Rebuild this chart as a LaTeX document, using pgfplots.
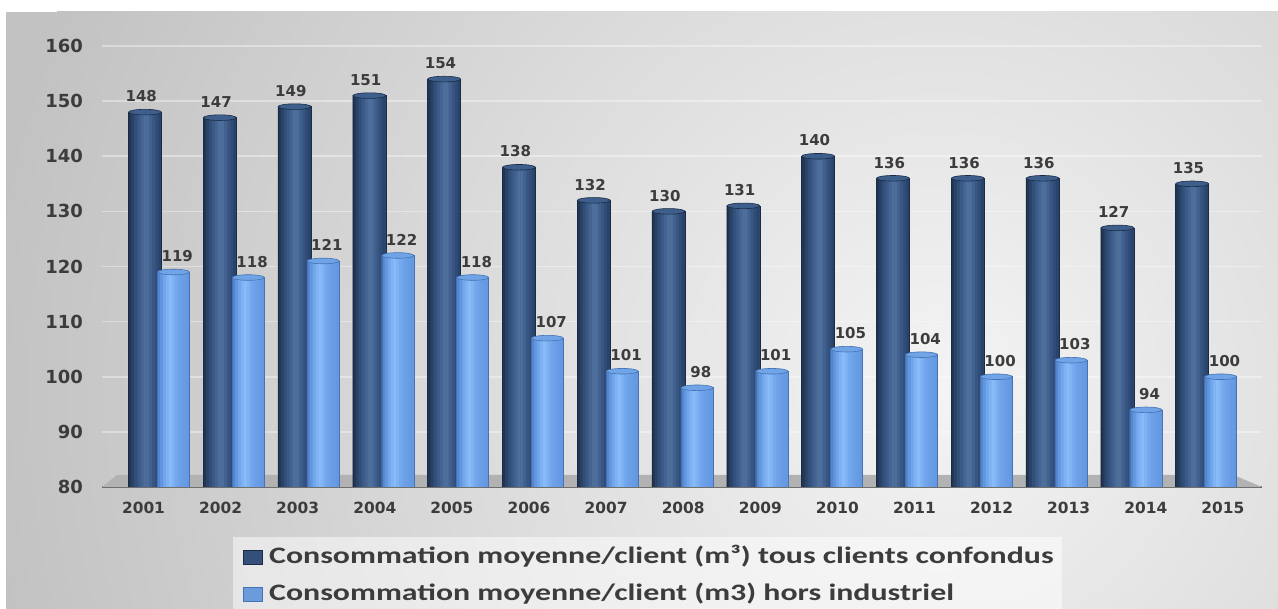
\documentclass[border=0pt]{standalone}
\usepackage{fontspec}
\setmainfont{DejaVu Sans}
\newfontfamily\legfont[FakeStretch=1.35]{Carlito}
\usepackage{pgfplots}
\usepackage{pgfplotstable}
\pgfplotsset{compat=1.18}
\definecolor{txt}{HTML}{3C3C3C}
\definecolor{bgdark}{HTML}{C2C2C2}
\definecolor{bglight}{HTML}{F4F4F4}
\definecolor{dk1}{HTML}{1E2F48}
\definecolor{dk2}{HTML}{34527F}
\definecolor{dk3}{HTML}{52729F}
\definecolor{dk4}{HTML}{263F64}
\definecolor{dkedge}{HTML}{1A2B45}
\definecolor{dkcap}{HTML}{3E5E8C}
\definecolor{dkflat}{HTML}{34507A}
\definecolor{lt1}{HTML}{4A7EC6}
\definecolor{lt2}{HTML}{6EA3EA}
\definecolor{lt3}{HTML}{88BCF9}
\definecolor{lt4}{HTML}{6296E0}
\definecolor{ltedge}{HTML}{4472B4}
\definecolor{ltcap}{HTML}{70A4E6}
\definecolor{ltflat}{HTML}{6A9BDA}
\definecolor{floorc}{HTML}{B2B2B2}
\definecolor{floorl}{HTML}{6E6E6E}
\pgfdeclareplotmark{capd}{\pgfpathellipse{\pgfpointorigin}{\pgfqpoint{8.25pt}{0pt}}{\pgfqpoint{0pt}{1.4pt}}\pgfusepathqfillstroke}
\pgfdeclareplotmark{capl}{\pgfpathellipse{\pgfpointorigin}{\pgfqpoint{8pt}{0pt}}{\pgfqpoint{0pt}{1.4pt}}\pgfusepathqfillstroke}
\newcommand{\strip}[4]{\addplot[ybar, bar width=#1, bar shift=#2, fill=#3, draw=none, forget plot] table[x=x, y=#4] {\data};}
\pgfplotstableread{
x dark light
0 148 119
1 147 118
2 149 121
3 151 122
4 154 118
5 138 107
6 132 101
7 130 98
8 131 101
9 140 105
10 136 104
11 136 100
12 136 103
13 127 94
14 135 100
}\data
\begin{document}
\begin{tikzpicture}
\useasboundingbox (0,0) rectangle (639pt,304.5pt);
\begin{scope}
\clip (3pt,0) rectangle (639pt,298.5pt);
\fill[bgdark] (3pt,0) rectangle (639pt,298.5pt);
\shade[inner color=bglight, outer color=bgdark] (470pt,110pt) circle (480pt);
\end{scope}
\begin{axis}[
  at={(51pt,61pt)}, anchor=south west,
  scale only axis, width=580pt, height=220.5pt,
  xmin=-0.762, xmax=14.746, ymin=80, ymax=160,
  ytick={80,90,...,160},
  xtick={-0.207,0.824,1.854,2.885,3.916,4.946,5.977,7.008,8.039,9.069,10.100,11.131,12.161,13.192,14.223},
  xticklabels={2001,2002,2003,2004,2005,2006,2007,2008,2009,2010,2011,2012,2013,2014,2015},
  axis x line*=bottom, axis y line*=left,
  x axis line style={draw=floorl, line width=1.2pt, -},
  y axis line style={draw=none},
  major tick length=0pt,
  ymajorgrids, major grid style={draw=white, draw opacity=0.38, line width=0.8pt},
  /pgf/number format/assume math mode=true,
  yticklabel style={font=\bfseries\fontsize{9}{10}\selectfont, text=txt, xshift=-6pt},
  xticklabel style={font=\bfseries\fontsize{7.7}{9}\selectfont, text=txt, yshift=-4pt},
  legend style={at={(0.1129,-0.1134)}, anchor=north west, draw=none, fill=white, fill opacity=0.5, text opacity=1,
    font=\legfont\bfseries\fontsize{11.8}{14}\selectfont, text=txt, row sep=2.5pt,
    inner xsep=2pt, inner ysep=2pt,
    nodes={text height=9pt, text depth=3pt, inner sep=2pt}},
  legend cell align=left,
]
\fill[floorc] (axis cs:-0.762,80) -- (axis cs:-0.561,82.2) -- (axis cs:14.358,82.2) -- (axis cs:14.746,80) -- cycle;
% dark cylinders
\addplot[ybar, bar width=16.5pt, bar shift=-7pt, fill=dk2, draw=none, forget plot] table[x=x, y=dark] {\data};
\strip{1.7pt}{-14.5pt}{dk2!18!dk1}{dark}
\strip{1.7pt}{-13pt}{dk2!54!dk1}{dark}
\strip{1.7pt}{-11.5pt}{dk2!91!dk1}{dark}
\strip{1.7pt}{-10pt}{dk3!23!dk2}{dark}
\strip{1.7pt}{-8.5pt}{dk3!53!dk2}{dark}
\strip{1.7pt}{-7pt}{dk3!83!dk2}{dark}
\strip{1.7pt}{-5.5pt}{dk3!84!dk2}{dark}
\strip{1.7pt}{-4pt}{dk3!48!dk2}{dark}
\strip{1.7pt}{-2.5pt}{dk3!12!dk2}{dark}
\strip{1.7pt}{-1pt}{dk4!30!dk2}{dark}
\strip{1.5pt}{0.4pt}{dk4!75!dk2}{dark}
\addplot[ybar, bar width=16.5pt, bar shift=-7pt, fill=none, draw=dkedge, line width=0.3pt, forget plot] table[x=x, y=dark] {\data};
\addplot[only marks, mark=capd, mark options={fill=dkcap, draw=dkedge, line width=0.3pt}, forget plot]
  table[x expr=\thisrow{x}-0.1872, y=dark] {\data};
% light cylinders
\addplot[ybar, bar width=16pt, bar shift=7.25pt, fill=lt2, draw=none, forget plot] table[x=x, y=light] {\data};
\strip{1.65pt}{-0.02pt}{lt2!22!lt1}{light}
\strip{1.65pt}{1.43pt}{lt2!68!lt1}{light}
\strip{1.65pt}{2.89pt}{lt3!13!lt2}{light}
\strip{1.65pt}{4.34pt}{lt3!59!lt2}{light}
\strip{1.65pt}{5.8pt}{lt3}{light}
\strip{1.65pt}{7.25pt}{lt3!64!lt2}{light}
\strip{1.65pt}{8.7pt}{lt3!24!lt2}{light}
\strip{1.65pt}{10.16pt}{lt2}{light}
\strip{1.65pt}{11.61pt}{lt4!34!lt2}{light}
\strip{1.65pt}{13.07pt}{lt4!60!lt2}{light}
\strip{1.45pt}{14.43pt}{lt4!86!lt2}{light}
\addplot[ybar, bar width=16pt, bar shift=7.25pt, fill=none, draw=ltedge, line width=0.3pt, forget plot] table[x=x, y=light] {\data};
\addplot[only marks, mark=capl, mark options={fill=ltcap, draw=ltedge, line width=0.3pt}, forget plot]
  table[x expr=\thisrow{x}+0.1939, y=light] {\data};
% value labels
\addplot[draw=none, mark=none, nodes near coords, nodes near coords style={font=\bfseries\fontsize{7.5}{8}\selectfont, text=txt, yshift=1.5pt}, forget plot]
  table[x expr=\thisrow{x}-0.237, y=dark] {\data};
\addplot[draw=none, mark=none, nodes near coords, nodes near coords style={font=\bfseries\fontsize{7.5}{8}\selectfont, text=txt, yshift=1.5pt}, forget plot]
  table[x expr=\thisrow{x}+0.244, y=light] {\data};
\addlegendimage{legend image code/.code={\fill[dkflat, draw=dkedge, line width=0.4pt, fill opacity=1, draw opacity=1] (3pt,-3.4pt) rectangle (12.5pt,3.4pt); \path (0pt,0pt) (13.5pt,0pt);}}
\addlegendentry{Consommation moyenne/client (m³) tous clients confondus}
\addlegendimage{legend image code/.code={\fill[ltflat, draw=ltedge, line width=0.4pt, fill opacity=1, draw opacity=1] (3pt,-3.4pt) rectangle (12.5pt,3.4pt); \path (0pt,0pt) (13.5pt,0pt);}}
\addlegendentry{Consommation moyenne/client (m3) hors industriel}
\end{axis}
\end{tikzpicture}
\end{document}
